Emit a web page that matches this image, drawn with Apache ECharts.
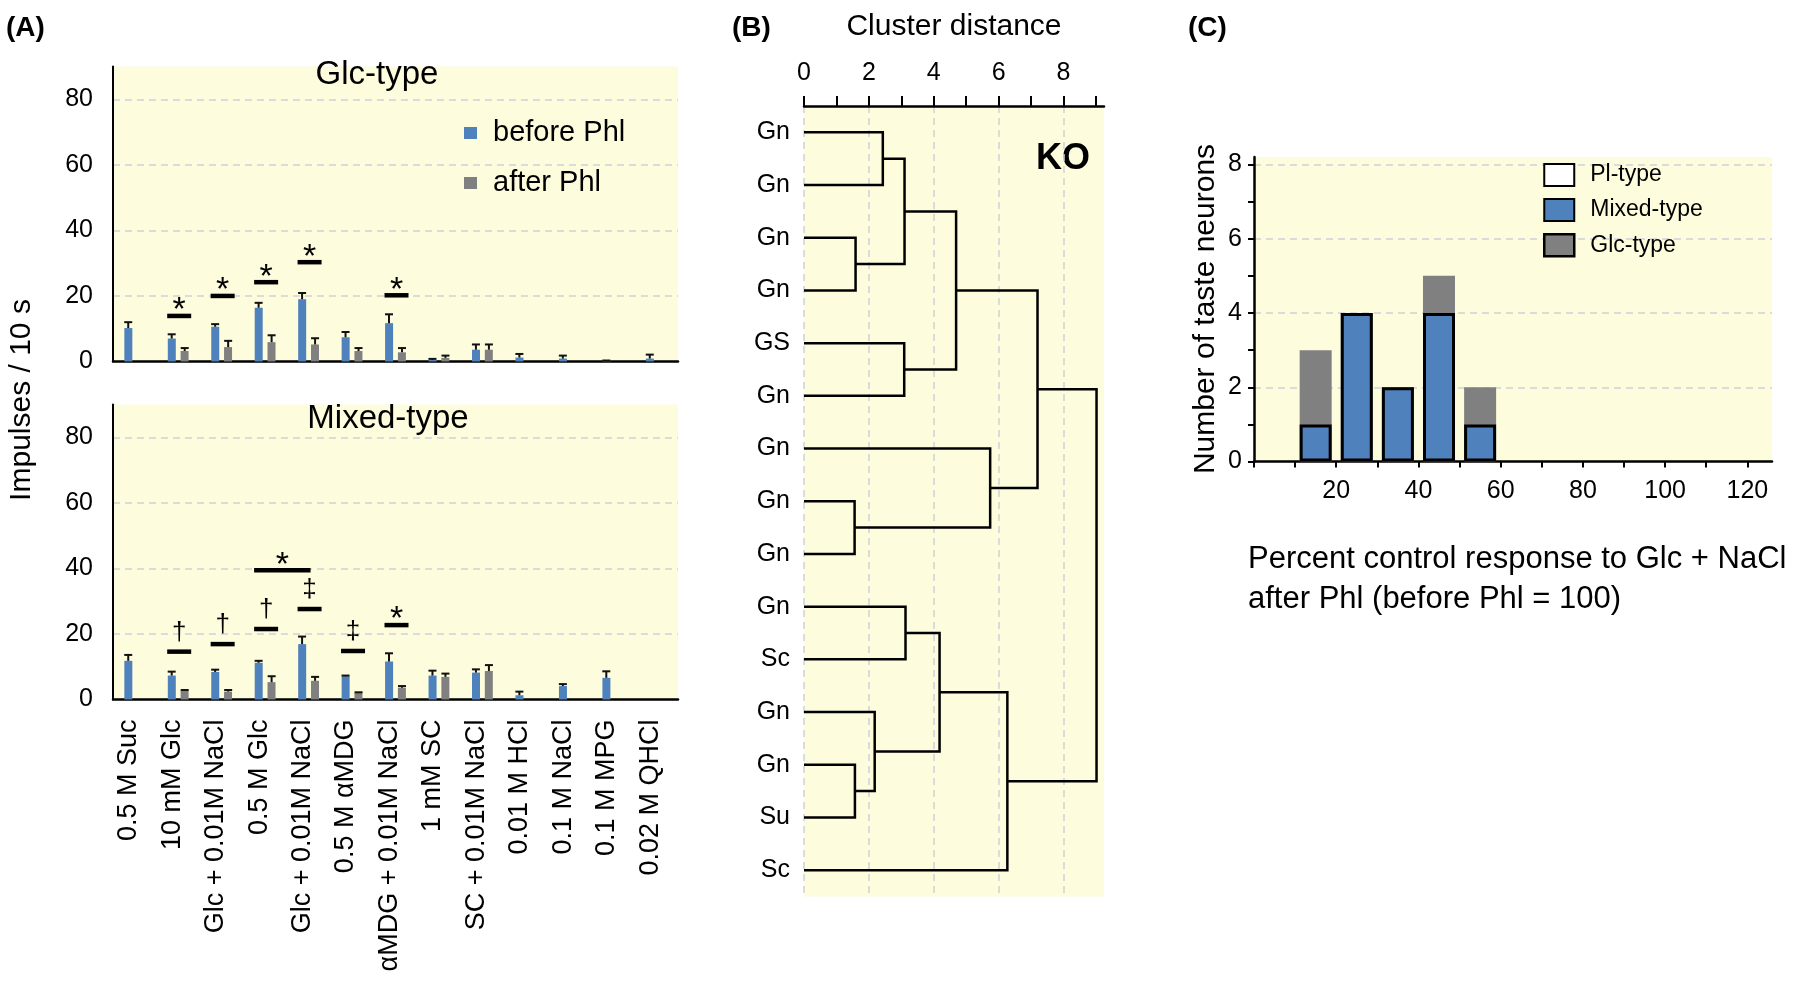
<!DOCTYPE html>
<html><head><meta charset="utf-8">
<script src="https://cdn.jsdelivr.net/npm/echarts@6/dist/echarts.min.js"></script>
<style>html,body{margin:0;padding:0;background:#fff}#chart{width:1800px;height:985px}</style>
</head><body><div id="chart"></div>
<script>
// ---------------- Panel A data ----------------
const categories = ['0.5 M Suc','10 mM Glc','Glc + 0.01M NaCl','0.5 M Glc','Glc + 0.01M NaCl','0.5 M \u03b1MDG','\u03b1MDG + 0.01M NaCl','1 mM SC','SC + 0.01M NaCl','0.01 M HCl','0.1 M NaCl','0.1 M MPG','0.02 M QHCl'];
const glcBefore    = [10.2, 7.0, 10.6, 16.4, 19.0, 7.4, 11.7, 0.5, 3.6, 1.2, 0.9, 0.3, 0.9];
const glcBeforeSem = [1.8, 1.3, 0.8, 1.5, 1.9, 1.6, 2.7, 0.3, 1.6, 1.1, 0.9, 0, 1.2];
const glcAfter     = [null, 3.2, 4.4, 5.9, 5.2, 3.2, 2.8, 1.1, 3.6, null, null, null, null];
const glcAfterSem  = [null, 0.9, 1.9, 2.1, 1.9, 0.9, 1.3, 0.7, 1.6, null, null, null, null];
const mixBefore    = [11.8, 7.3, 8.4, 11.2, 16.9, 7.1, 11.6, 7.3, 8.2, 1.3, 4.1, 6.6, null];
const mixBeforeSem = [1.8, 1.2, 0.7, 0.6, 2.3, 0.2, 2.5, 1.5, 1.0, 1.1, 0.6, 2.0, null];
const mixAfter     = [null, 2.7, 2.4, 5.3, 5.7, 2.0, 3.6, 6.9, 8.7, null, null, null, null];
const mixAfterSem  = [null, 0.2, 0.5, 1.8, 1.2, 0.2, 0.5, 1.0, 1.8, null, null, null, null];
// significance bars: [fromCategory, toCategory, level]
const glcSig = [[1,1,13.9],[2,2,20.0],[3,3,24.2],[4,4,30.3],[6,6,20.2]];
const glcSigMarks = ['*','*','*','*','*'];
const mixSig = [[1,1,14.6],[2,2,16.9],[3,3,21.5],[4,4,27.6],[5,5,14.8],[6,6,22.7],[3,4,39.4]];
const mixSigMarks = ['\u2020','\u2020','\u2020','\u2021','\u2021','*','*'];
const aTicks = [0,20,40,60,80];

// ---------------- Panel B data ----------------
const leafLabels = ['Gn','Gn','Gn','Gn','GS','Gn','Gn','Gn','Gn','Gn','Sc','Gn','Gn','Su','Sc'];
// merges: [nodeA, nodeB, distance]; leaves are 0..14, new clusters numbered from 15
const merges = [[0,1,2.43],[2,3,1.59],[15,16,3.10],[4,5,3.09],[17,18,4.69],[7,8,1.56],[6,20,5.74],[19,21,7.20],[9,10,3.13],[12,13,1.57],[11,24,2.18],[23,25,4.18],[26,14,6.27],[22,27,9.02]];
const distTicks = [0,2,4,6,8];

// ---------------- Panel C data ----------------
const binCenters = [15, 25, 35, 45, 55];
const plType    = [0, 0, 0, 0, 0];
const mixedType = [1, 4, 2, 4, 1];
const glcType   = [2, 0, 0, 1, 1];
const cTicks = [20, 40, 60, 80, 100, 120];

// ---------------- styles ----------------
const FONT = '"Liberation Sans", Arial, Helvetica, sans-serif';
const BLUE = '#4f81bd', GRAY = '#808080', YEL = '#fdfcdc', GRID = '#cfd0dc';

// dendrogram node positions
const nodeX = leafLabels.map(() => 0), nodeY = leafLabels.map((_, i) => i);
merges.forEach(m => { nodeX.push(m[2]); nodeY.push((nodeY[m[0]] + nodeY[m[1]]) / 2); });
const dendroData = merges.map(m => [m[2], nodeY[m[0]], nodeY[m[1]], nodeX[m[0]], nodeX[m[1]]]);

function errRender(offset) {
  return function (params, api) {
    const x = api.value(0), m = api.value(1), e = api.value(2);
    const b = api.coord([x, m]), t = api.coord([x, m + e]);
    const cx = b[0] + offset;
    return { type: 'group', children: [
      { type: 'line', shape: { x1: cx, y1: b[1], x2: cx, y2: t[1] }, style: { stroke: '#111', lineWidth: 2 } },
      { type: 'line', shape: { x1: cx - 4, y1: t[1], x2: cx + 4, y2: t[1] }, style: { stroke: '#111', lineWidth: 2 } }
    ]};
  };
}
function sigRender(marks) {
  return function (params, api) {
    const f = api.value(0), t = api.value(1), lv = api.value(2);
    const p1 = api.coord([f, lv]), p2 = api.coord([t, lv]);
    const x1 = p1[0] - 11, x2 = (f === t) ? p2[0] + 13 : p2[0] + 2;
    const mk = marks[params.dataIndex];
    const star = mk === '*';
    return { type: 'group', children: [
      { type: 'rect', shape: { x: x1, y: p1[1] - 2.25, width: x2 - x1, height: 4.5 }, style: { fill: '#000' } },
      { type: 'text', x: (x1 + x2) / 2, y: p1[1] - (star ? 5 : 19),
        style: { text: mk, font: (star ? '34px ' : '26px ') + FONT, align: 'center', verticalAlign: 'middle', fill: '#000' } }
    ]};
  };
}
function dendroRender(params, api) {
  const h = api.value(0), ya = api.value(1), yb = api.value(2), xa = api.value(3), xb = api.value(4);
  const pts = [api.coord([xa, ya]), api.coord([h, ya]), api.coord([h, yb]), api.coord([xb, yb])];
  return { type: 'polyline', shape: { points: pts }, style: { stroke: '#000', lineWidth: 2.5, fill: null } };
}
const toErr = (vals, sems) => vals.map((v, i) => v == null ? null : [i, v, sems[i]]).filter(Boolean);

const aYAxis = (gi) => ({
  type: 'value', gridIndex: gi, min: 0, max: 90, interval: 20,
  axisLine: { show: true, lineStyle: { color: '#000', width: 2 } }, axisTick: { show: false },
  axisLabel: { fontSize: 25, color: '#000', fontFamily: FONT, margin: 20, formatter: v => aTicks.includes(v) ? String(v) : '' },
  splitLine: { show: true, showMinLine: false, showMaxLine: false, lineStyle: { color: GRID, type: [7, 5], width: 1.5 } }
});
const aXAxis = (gi, labels) => ({
  type: 'category', gridIndex: gi, data: categories, boundaryGap: true,
  axisLine: { show: true, lineStyle: { color: '#000', width: 2.5 } }, axisTick: { show: false },
  axisLabel: labels ? { show: true, rotate: 90, interval: 0, fontSize: 27, color: '#000', fontFamily: FONT, margin: 20,
    verticalAlign: 'bottom', lineHeight: 12 } : { show: false }
});

const option = {
  animation: false,
  textStyle: { fontFamily: FONT },
  grid: [
    { left: 113, width: 565, top: 66.5, height: 295, show: true, backgroundColor: YEL, borderWidth: 0 },
    { left: 113, width: 565, top: 404.5, height: 295, show: true, backgroundColor: YEL, borderWidth: 0 },
    { left: 804, width: 300, top: 106, height: 790.5, show: true, backgroundColor: YEL, borderWidth: 0 },
    { left: 1254, width: 518, top: 157, height: 304.6, show: true, backgroundColor: YEL, borderWidth: 0 }
  ],
  xAxis: [
    aXAxis(0, false),
    aXAxis(1, true),
    { type: 'value', gridIndex: 2, position: 'top', min: 0, max: 9.25, interval: 2,
      axisLine: { show: true, onZero: false, lineStyle: { color: '#000', width: 2.5 } },
      axisTick: { show: true, inside: false, length: 10, lineStyle: { color: '#000', width: 2 }, customValues: [0,1,2,3,4,5,6,7,8,9] },
      axisLabel: { fontSize: 25, color: '#000', margin: 20, formatter: v => distTicks.includes(v) ? String(v) : '' },
      splitLine: { show: false },
      name: 'Cluster distance', nameLocation: 'middle', nameGap: 64, nameTextStyle: { fontSize: 30, color: '#000' } },
    { type: 'value', gridIndex: 3, min: 0, max: 126, interval: 20,
      axisLine: { show: true, onZero: false, lineStyle: { color: '#000', width: 2.5 } },
      axisTick: { show: true, length: 6, lineStyle: { color: '#000', width: 2 }, customValues: [0,10,20,30,40,50,60,70,80,90,100,110,120] },
      axisLabel: { fontSize: 25, color: '#000', margin: 17, formatter: v => cTicks.includes(v) ? String(v) : '' },
      splitLine: { show: false } },
    // gridlines only (panel B)
    { type: 'value', gridIndex: 2, position: 'bottom', min: 0, max: 9.25, interval: 2,
      axisLine: { show: false, onZero: false }, axisTick: { show: false }, axisLabel: { show: false },
      splitLine: { show: true, showMinLine: true, showMaxLine: false, lineStyle: { color: GRID, type: [7, 5], width: 1.5 } } }
  ],
  yAxis: [
    aYAxis(0), aYAxis(1),
    { type: 'category', gridIndex: 2, data: leafLabels, inverse: true,
      axisLine: { show: false, onZero: false }, axisTick: { show: false },
      axisLabel: { fontSize: 25, color: '#000', margin: 14 } },
    { type: 'value', gridIndex: 2, min: -0.5, max: 14.5, inverse: true, show: false },
    { type: 'value', gridIndex: 3, min: 0, max: 8.2, interval: 2,
      axisLine: { show: true, onZero: false, lineStyle: { color: '#000', width: 2.5 } },
      axisTick: { show: true, length: 6, lineStyle: { color: '#000', width: 2 }, customValues: [0,1,2,3,4,5,6,7,8] },
      axisLabel: { fontSize: 25, color: '#000', margin: 12, formatter: v => (v % 2 === 0) ? String(v) : '' },
      splitLine: { show: false } },
    // gridlines only (panel C)
    { type: 'value', gridIndex: 3, position: 'right', min: 0, max: 8.2, interval: 2,
      axisLine: { show: false, onZero: false }, axisTick: { show: false }, axisLabel: { show: false },
      splitLine: { show: true, showMinLine: false, showMaxLine: false, lineStyle: { color: GRID, type: [7, 5], width: 1.5 } } }
  ],
  legend: [
    { data: ['before Phl', 'after Phl'], left: 464, top: 117, orient: 'vertical', padding: 0,
      itemWidth: 13, itemHeight: 12, itemGap: 18, icon: 'rect', selectedMode: false,
      textStyle: { fontSize: 29, color: '#000', lineHeight: 32, padding: [0, 0, 0, 11] } },
    { data: [ { name: 'Pl-type' }, { name: 'Mixed-type' }, { name: 'Glc-type', itemStyle: { borderColor: '#000', borderWidth: 2.5 } } ],
      left: 1543, top: 163, orient: 'vertical', padding: 0, itemWidth: 30, itemHeight: 22, itemGap: 11, icon: 'rect', selectedMode: false,
      textStyle: { fontSize: 23, color: '#000', lineHeight: 24, padding: [0, 0, 0, 11] } }
  ],
  series: [
    // Panel A top (Glc-type)
    { name: 'before Phl', type: 'bar', xAxisIndex: 0, yAxisIndex: 0, data: glcBefore, barWidth: 8, barGap: '60%', itemStyle: { color: BLUE } },
    { name: 'after Phl', type: 'bar', xAxisIndex: 0, yAxisIndex: 0, data: glcAfter, barWidth: 8, barGap: '60%', itemStyle: { color: GRAY } },
    { type: 'custom', xAxisIndex: 0, yAxisIndex: 0, renderItem: errRender(-6.5), data: toErr(glcBefore, glcBeforeSem), encode: { x: 0, y: 1 }, z: 3 },
    { type: 'custom', xAxisIndex: 0, yAxisIndex: 0, renderItem: errRender(6.5), data: toErr(glcAfter, glcAfterSem), encode: { x: 0, y: 1 }, z: 3 },
    { type: 'custom', xAxisIndex: 0, yAxisIndex: 0, renderItem: sigRender(glcSigMarks), data: glcSig, encode: { x: 0, y: 2 }, z: 4 },
    // Panel A bottom (Mixed-type)
    { name: 'before Phl', type: 'bar', xAxisIndex: 1, yAxisIndex: 1, data: mixBefore, barWidth: 8, barGap: '60%', itemStyle: { color: BLUE } },
    { name: 'after Phl', type: 'bar', xAxisIndex: 1, yAxisIndex: 1, data: mixAfter, barWidth: 8, barGap: '60%', itemStyle: { color: GRAY } },
    { type: 'custom', xAxisIndex: 1, yAxisIndex: 1, renderItem: errRender(-6.5), data: toErr(mixBefore, mixBeforeSem), encode: { x: 0, y: 1 }, z: 3 },
    { type: 'custom', xAxisIndex: 1, yAxisIndex: 1, renderItem: errRender(6.5), data: toErr(mixAfter, mixAfterSem), encode: { x: 0, y: 1 }, z: 3 },
    { type: 'custom', xAxisIndex: 1, yAxisIndex: 1, renderItem: sigRender(mixSigMarks), data: mixSig, encode: { x: 0, y: 2 }, z: 4 },
    // Panel B dendrogram
    { type: 'custom', xAxisIndex: 2, yAxisIndex: 3, renderItem: dendroRender, data: dendroData, encode: { x: 0, y: 1 }, z: 5 },
    // Panel C histogram: Glc-type stacked on top of Mixed-type (drawn as cumulative total behind)
    { name: 'Glc-type', type: 'bar', xAxisIndex: 3, yAxisIndex: 4, barWidth: 32, barGap: '-100%', z: 2,
      data: binCenters.map((c, i) => [c, mixedType[i] + glcType[i] + plType[i]]), itemStyle: { color: GRAY } },
    { name: 'Mixed-type', type: 'bar', xAxisIndex: 3, yAxisIndex: 4, barWidth: 32, barGap: '-100%', z: 3,
      data: binCenters.map((c, i) => [c, mixedType[i]]), itemStyle: { color: BLUE, borderColor: '#000', borderWidth: 3 } },
    { name: 'Pl-type', type: 'bar', xAxisIndex: 3, yAxisIndex: 4, barWidth: 32, barGap: '-100%', z: 4,
      data: binCenters.map((c, i) => [c, plType[i] || null]), itemStyle: { color: '#fff', borderColor: '#000', borderWidth: 2.5 } }
  ],
  graphic: [
    { type: 'text', left: 6, top: 14, style: { text: '(A)', font: 'bold 28px ' + FONT, fill: '#000' } },
    { type: 'text', left: 732, top: 14, style: { text: '(B)', font: 'bold 28px ' + FONT, fill: '#000' } },
    { type: 'text', left: 1188, top: 14, style: { text: '(C)', font: 'bold 28px ' + FONT, fill: '#000' } },
    { type: 'text', x: 377, y: 75, style: { text: 'Glc-type', font: '33px ' + FONT, fill: '#000', align: 'center', verticalAlign: 'middle' } },
    { type: 'text', x: 388, y: 419, style: { text: 'Mixed-type', font: '33px ' + FONT, fill: '#000', align: 'center', verticalAlign: 'middle' } },
    { type: 'text', x: 22, y: 400, rotation: Math.PI / 2, style: { text: 'Impulses / 10 s', font: '30px ' + FONT, fill: '#000', align: 'center', verticalAlign: 'middle' } },
    { type: 'text', x: 1063, y: 159, style: { text: 'KO', font: 'bold 36px ' + FONT, fill: '#000', align: 'center', verticalAlign: 'middle' } },
    { type: 'text', x: 1206, y: 309, rotation: Math.PI / 2, style: { text: 'Number of taste neurons', font: '30px ' + FONT, fill: '#000', align: 'center', verticalAlign: 'middle' } },
    { type: 'text', x: 1248, y: 559, style: { text: 'Percent control response to Glc + NaCl', font: '31px ' + FONT, fill: '#000', align: 'left', verticalAlign: 'middle' } },
    { type: 'text', x: 1248, y: 599, style: { text: 'after Phl (before Phl = 100)', font: '31px ' + FONT, fill: '#000', align: 'left', verticalAlign: 'middle' } }
  ]
};
const chart = echarts.init(document.getElementById('chart'), null, { renderer: 'canvas', width: 1800, height: 985 });
chart.setOption(option);
</script></body></html>
